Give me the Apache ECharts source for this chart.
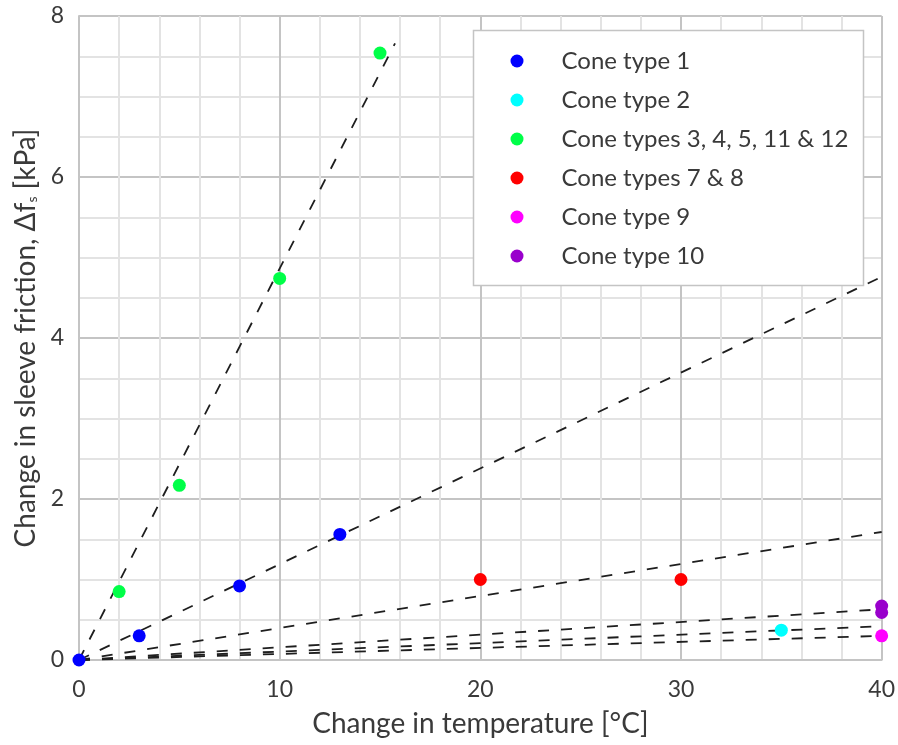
<!DOCTYPE html>
<html>
<head>
<meta charset="utf-8">
<title>Change in sleeve friction vs change in temperature</title>
<script src="https://cdn.jsdelivr.net/npm/echarts@6/dist/echarts.min.js"></script>
<style>
  html, body { margin: 0; padding: 0; background: #ffffff; }
  #chart { width: 898px; height: 745px; }
</style>
</head>
<body>
<div id="chart"></div>
<script>
// Measured points: [temperature change (°C), sleeve friction change (kPa)]
const coneType1 = [[0, 0], [3, 0.3], [8, 0.92], [13, 1.56]];
const coneType2 = [[35, 0.37]];
const coneTypes3to12 = [[2, 0.85], [5, 2.17], [10, 4.74], [15, 7.54]];
const coneTypes7and8 = [[20, 1.0], [30, 1.0]];
const coneType9 = [[40, 0.3]];
const coneType10 = [[40, 0.67], [40, 0.59]];

// Fitted lines through the origin: [start, end]
const fitCone3to12 = [[0, 0], [15.75, 7.66]];
const fitCone1 = [[0, 0], [40, 4.76]];
const fitCone7and8 = [[0, 0], [40, 1.59]];
const fitCone10 = [[0, 0], [40, 0.63]];
const fitCone2 = [[0, 0], [40, 0.42]];
const fitCone9 = [[0, 0], [40, 0.3]];

const seriesNames = ['Cone type 1', 'Cone type 2', 'Cone types 3, 4, 5, 11 & 12',
  'Cone types 7 & 8', 'Cone type 9', 'Cone type 10'];
const seriesColors = ['#0000ff', '#00ffff', '#00ff48', '#ff0000', '#ff00ff', '#9900cc'];
const seriesData = [coneType1, coneType2, coneTypes3to12, coneTypes7and8, coneType9, coneType10];
const fitLines = [fitCone3to12, fitCone1, fitCone7and8, fitCone10, fitCone2, fitCone9];

const xTicks = [0, 10, 20, 30, 40];
const yTicks = [0, 2, 4, 6, 8];

const FONT = 'Lato';
const TEXT = '#3a3a3a';

const chart = echarts.init(document.getElementById('chart'), null, { renderer: 'canvas' });

const fitSeries = fitLines.map(d => ({
  type: 'line',
  data: d,
  symbol: 'none',
  silent: true,
  z: 3,
  lineStyle: { color: '#1e1e1e', width: 1.8, type: [11, 12] }
}));

const pointSeries = seriesNames.map((name, i) => ({
  name: name,
  type: 'scatter',
  data: seriesData[i],
  symbol: 'circle',
  symbolSize: 13,
  z: 5,
  itemStyle: { color: seriesColors[i], opacity: 1 }
}));

chart.setOption({
  animation: false,
  backgroundColor: '#ffffff',
  textStyle: { fontFamily: FONT },
  grid: { left: 79, right: 15, top: 16, bottom: 85, containLabel: false },
  xAxis: {
    type: 'value',
    min: xTicks[0],
    max: xTicks[xTicks.length - 1],
    interval: 10,
    name: 'Change in temperature [°C]',
    nameLocation: 'middle',
    nameGap: 50,
    nameTextStyle: { fontFamily: FONT, fontSize: 28, color: TEXT },
    axisLine: { show: true, lineStyle: { color: '#c4c4c4', width: 2 } },
    axisTick: { show: false },
    axisLabel: { fontFamily: FONT, fontSize: 23, color: TEXT, margin: 18 },
    splitLine: { show: true, lineStyle: { color: '#c4c4c4', width: 2 } },
    minorTick: { show: false, splitNumber: 5 },
    minorSplitLine: { show: true, lineStyle: { color: '#e3e3e3', width: 2 } }
  },
  yAxis: {
    type: 'value',
    min: yTicks[0],
    max: yTicks[yTicks.length - 1],
    interval: 2,
    name: '{a|Change in sleeve friction, Δf}{s|s}{a| [kPa]}',
    nameLocation: 'middle',
    nameGap: 38,
    nameRotate: 90,
    nameTextStyle: {
      color: TEXT,
      rich: {
        a: { fontFamily: FONT, fontSize: 28, color: TEXT },
        s: { fontFamily: FONT, fontSize: 14, color: TEXT, padding: [13, 0, 0, 0] }
      }
    },
    axisLine: { show: true, lineStyle: { color: '#c4c4c4', width: 2 } },
    axisTick: { show: false },
    axisLabel: { fontFamily: FONT, fontSize: 23, color: TEXT, margin: 15 },
    splitLine: { show: true, lineStyle: { color: '#c4c4c4', width: 2 } },
    minorTick: { show: false, splitNumber: 4 },
    minorSplitLine: { show: true, lineStyle: { color: '#e3e3e3', width: 2 } }
  },
  legend: {
    data: seriesNames,
    orient: 'vertical',
    left: 510.5,
    top: 48,
    padding: 0,
    itemWidth: 13,
    itemHeight: 13,
    itemGap: 13,
    icon: 'circle',
    z: 20,
    textStyle: { fontFamily: FONT, fontSize: 24, color: TEXT, lineHeight: 26, padding: [0, 0, 0, 33] }
  },
  graphic: [{
    type: 'rect',
    z: 15,
    shape: { x: 473.5, y: 30.5, width: 390, height: 255 },
    style: { fill: '#ffffff', stroke: '#c4c4c4', lineWidth: 1.5 }
  }],
  series: fitSeries.concat(pointSeries)
});
</script>
</body>
</html>
